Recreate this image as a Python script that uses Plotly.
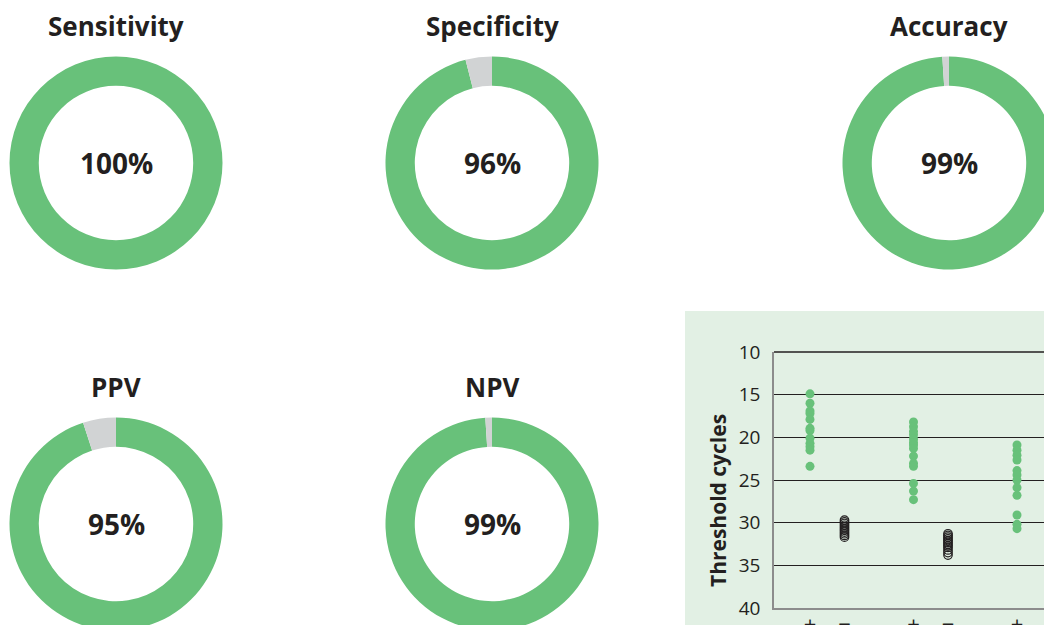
import plotly.graph_objects as go

# ---------------- data ----------------
metric_names = ["Sensitivity", "Specificity", "Accuracy", "PPV", "NPV"]
metric_values = [100, 96, 99, 95, 99]          # percent

group_labels = ["+", "−", "+", "−", "+", "−"]
group_positions = [0, 1, 3, 4, 6, 7]

pos1 = [14.9, 16.0, 16.9, 17.2, 17.9, 18.95, 19.2, 20.1, 20.7, 21.1, 21.5, 23.4]
neg1 = [29.7, 29.9, 30.1, 30.3, 30.5, 30.7, 30.9, 31.1, 31.3, 31.5, 31.7]
pos2 = [18.2, 18.75, 19.3, 19.7, 20.2, 20.6, 20.9, 21.3, 22.2, 23.05, 23.4, 25.4, 26.3, 27.3]
neg2 = [31.3, 31.5, 31.7, 31.9, 32.1, 32.3, 32.5, 32.7, 32.9, 33.2, 33.5, 33.8]
pos3 = [20.9, 21.5, 22.1, 22.66, 23.9, 24.4, 25.0, 25.9, 26.8, 29.1, 30.2, 30.7]

y_ticks = [10, 15, 20, 25, 30, 35, 40]

# ---------------- styles / layout ----------------
W, H = 1070, 650
GREEN = "#68C17A"
GREY = "#D1D3D4"
TXT = "#231F20"
FONT = "Open Sans"


def px(x):
    return x / W


def py(y):
    return 1 - y / H


# donut centres (pixel) and radius
donut_geo = [(116, 163), (492, 163), (949, 163), (116, 524), (492, 524)]
R = 106.5
title_dy = 137  # title centre above donut centre

fig = go.Figure()
annotations = []
for name, val, (cx, cy) in zip(metric_names, metric_values, donut_geo):
    fig.add_trace(go.Pie(
        values=[val, 100 - val],
        labels=[name, "rest"],
        marker=dict(colors=[GREEN, GREY], line=dict(width=0)),
        hole=0.725,
        sort=False,
        direction="clockwise",
        rotation=0,
        textinfo="none",
        hoverinfo="skip",
        showlegend=False,
        domain=dict(x=[px(cx - R), px(cx + R)], y=[py(cy + R), py(cy - R)]),
    ))
    annotations.append(dict(
        x=px(cx), y=py(cy), xref="paper", yref="paper", showarrow=False,
        text=f"<b>{val}%</b>", font=dict(family=FONT, size=28, color=TXT),
        xanchor="center", yanchor="middle"))
    annotations.append(dict(
        x=px(cx), y=py(cy - title_dy), xref="paper", yref="paper", showarrow=False,
        text=f"<b>{name}</b>", font=dict(family=FONT, size=26, color=TXT),
        xanchor="center", yanchor="middle"))

# scatter panel
series = [(0, pos1, True), (1, neg1, False), (3, pos2, True), (4, neg2, False), (6, pos3, True)]
for xpos, vals, filled in series:
    if filled:
        marker = dict(size=9, color=GREEN, symbol="circle")
    else:
        marker = dict(size=8.5, color=TXT, symbol="circle-open", line=dict(width=1.2))
    fig.add_trace(go.Scatter(
        x=[xpos] * len(vals), y=vals, mode="markers", marker=marker,
        showlegend=False, hoverinfo="skip", cliponaxis=False,
        xaxis="x", yaxis="y"))

unit = 34.5
x_left, x_zero, x_right = 774, 810, 1066
fig.update_layout(
    xaxis=dict(
        domain=[px(x_left), px(x_right)],
        range=[(x_left - x_zero) / unit, (x_right - x_zero) / unit],
        tickvals=group_positions, ticktext=group_labels,
        showgrid=False, zeroline=False, showline=True, linecolor="#8C8C8C", linewidth=1.6,
        ticks="", tickfont=dict(family=FONT, size=22, color=TXT), ticklabelstandoff=-4,
        anchor="y", automargin=False, fixedrange=True,
    ),
    yaxis=dict(
        domain=[py(608), py(352)],
        range=[40, 10],
        tickvals=y_ticks,
        showgrid=True, gridcolor=TXT, gridwidth=1.3,
        zeroline=False, showline=True, linecolor="#8C8C8C", linewidth=1.6,
        ticks="", tickfont=dict(family=FONT, size=19, color=TXT), ticklabelstandoff=8,
        anchor="x", automargin=False, fixedrange=True,
    ),
)

annotations.append(dict(
    x=px(718), y=py(501), xref="paper", yref="paper", showarrow=False,
    text="<b>Threshold cycles</b>", textangle=-90,
    font=dict(family=FONT, size=21, color=TXT), xanchor="center", yanchor="middle"))

fig.update_layout(
    template="none",
    width=W, height=H,
    margin=dict(l=0, r=0, t=0, b=0, pad=0, autoexpand=False),
    paper_bgcolor="white", plot_bgcolor="white",
    annotations=annotations,
    shapes=[
        dict(type="rect", xref="paper", yref="paper", layer="below",
             x0=px(685), x1=1, y0=0, y1=py(311),
             fillcolor="#E2F0E4", line=dict(width=0)),
        dict(type="line", xref="paper", yref="paper",
             x0=px(x_left), x1=px(x_right), y0=py(352), y1=py(352),
             line=dict(color=TXT, width=1.3)),
    ],
)

fig.write_html("out.html", config={"displayModeBar": False},
               post_script="document.body.style.margin='0';document.body.style.overflow='hidden';")
